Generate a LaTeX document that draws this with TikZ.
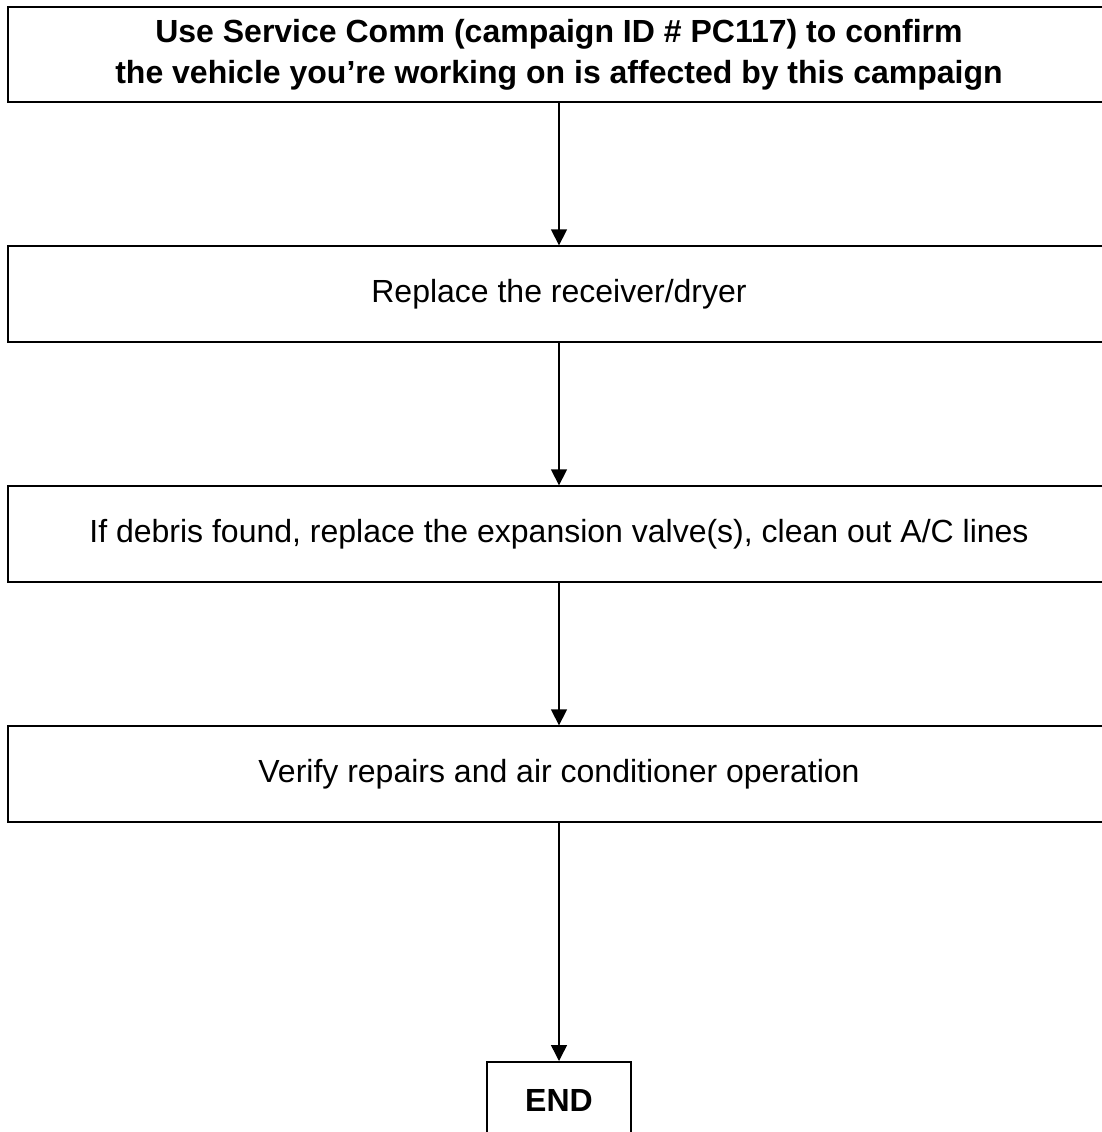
\documentclass[tikz,border=0pt]{standalone}
\usepackage{fontspec}
\setmainfont{Liberation Sans}
\usetikzlibrary{arrows.meta}
\begin{document}
\begin{tikzpicture}[x=0.75pt,y=-0.75pt,
  boxstyle/.style={draw, line width=1.5pt, minimum height=71.5pt, inner sep=0pt, align=center, font=\fontsize{24}{30}\selectfont},
  arr/.style={line width=1.1pt, -{Triangle[length=12pt,width=12pt]}}]
\useasboundingbox (0,0) rectangle (1102,1132);
\clip (0,0) rectangle (1102,1132);
\node[boxstyle, minimum width=827pt, font=\fontsize{24}{30.5}\selectfont\bfseries] (b1) at (559,54.5) {Use Service Comm (campaign ID \# PC117) to confirm\\the vehicle you’re working on is affected by this campaign};
\node[boxstyle, minimum width=827pt] (b2) at (559,294) {Replace the receiver/dryer};
\node[boxstyle, minimum width=827pt] (b3) at (559,534) {If debris found, replace the expansion valve(s), clean out A/C lines};
\node[boxstyle, minimum width=827pt] (b4) at (559,774) {Verify repairs and air conditioner operation};
\node[boxstyle, minimum width=108pt, minimum height=57pt, font=\fontsize{24}{30}\selectfont\bfseries] (e) at (559,1100) {END};
\draw[arr] (b1.south) -- (b2.north);
\draw[arr] (b2.south) -- (b3.north);
\draw[arr] (b3.south) -- (b4.north);
\draw[arr] (b4.south) -- (e.north);
\end{tikzpicture}
\end{document}
